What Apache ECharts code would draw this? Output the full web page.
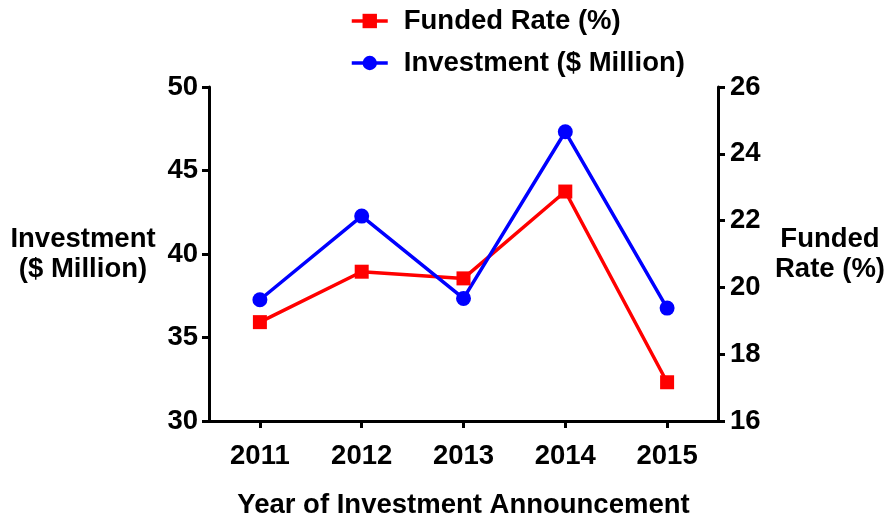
<!DOCTYPE html>
<html>
<head>
<meta charset="utf-8">
<script src="https://cdn.jsdelivr.net/npm/echarts@6/dist/echarts.min.js"></script>
<style>
html,body{margin:0;padding:0;background:#fff;}
#chart{width:891px;height:524px;}
</style>
</head>
<body>
<div id="chart"></div>
<script>
const years = ['2011', '2012', '2013', '2014', '2015'];
const fundedRate = [18.96, 20.47, 20.27, 22.87, 17.16];
const investment = [37.26, 42.27, 37.34, 47.32, 36.76];
const leftTicks = {min: 30, max: 50, interval: 5};
const rightTicks = {min: 16, max: 26, interval: 2};

const FONT = "'Liberation Sans', Arial, sans-serif";
const FS = 27.5;
const axisLine = {show: true, lineStyle: {color: '#000', width: 3}};
const axisTick = {show: true, inside: false, length: 7, lineStyle: {color: '#000', width: 3}};
const labelStyle = {color: '#000', fontFamily: FONT, fontWeight: 'bold', fontSize: FS};

const chart = echarts.init(document.getElementById('chart'), null, {renderer: 'canvas'});
chart.setOption({
  backgroundColor: '#fff',
  animation: false,
  grid: {left: 209, right: 173, top: 87, bottom: 99, containLabel: false},
  legend: {
    orient: 'vertical',
    left: 345,
    top: 2,
    itemWidth: 36,
    itemHeight: 18,
    itemGap: 14,
    lineStyle: {width: 3.5},
    textStyle: Object.assign({}, labelStyle, {lineHeight: 28, padding: [0, 0, 0, 11]}),
    data: ['Funded Rate (%)', 'Investment ($ Million)']
  },
  xAxis: {
    type: 'category',
    data: years,
    boundaryGap: true,
    axisLine: axisLine,
    axisTick: Object.assign({alignWithLabel: true}, axisTick),
    axisLabel: Object.assign({margin: 21}, labelStyle),
    splitLine: {show: false},
    name: 'Year of Investment Announcement',
    nameLocation: 'middle',
    nameGap: 84,
    nameTextStyle: Object.assign({verticalAlign: 'middle'}, labelStyle)
  },
  yAxis: [
    {
      type: 'value',
      position: 'left',
      min: leftTicks.min, max: leftTicks.max, interval: leftTicks.interval,
      axisLine: axisLine,
      axisTick: axisTick,
      axisLabel: Object.assign({margin: 11}, labelStyle),
      splitLine: {show: false},
      name: 'Investment\n($ Million)',
      nameLocation: 'middle',
      nameRotate: 0,
      nameGap: 126,
      nameTextStyle: Object.assign({align: 'center', verticalAlign: 'middle', lineHeight: 30}, labelStyle)
    },
    {
      type: 'value',
      position: 'right',
      min: rightTicks.min, max: rightTicks.max, interval: rightTicks.interval,
      axisLine: axisLine,
      axisTick: axisTick,
      axisLabel: Object.assign({margin: 12}, labelStyle),
      splitLine: {show: false},
      name: 'Funded\nRate (%)',
      nameLocation: 'middle',
      nameRotate: 0,
      nameGap: 112,
      nameTextStyle: Object.assign({align: 'center', verticalAlign: 'middle', lineHeight: 30}, labelStyle)
    }
  ],
  series: [
    {
      name: 'Funded Rate (%)',
      type: 'line',
      yAxisIndex: 1,
      data: fundedRate,
      symbol: 'rect',
      symbolSize: 14,
      color: '#FF0000',
      lineStyle: {color: '#FF0000', width: 3.5},
      itemStyle: {color: '#FF0000'}
    },
    {
      name: 'Investment ($ Million)',
      type: 'line',
      yAxisIndex: 0,
      data: investment,
      symbol: 'circle',
      symbolSize: 15,
      color: '#0000FF',
      lineStyle: {color: '#0000FF', width: 3.5},
      itemStyle: {color: '#0000FF'}
    }
  ]
});
</script>
</body>
</html>
